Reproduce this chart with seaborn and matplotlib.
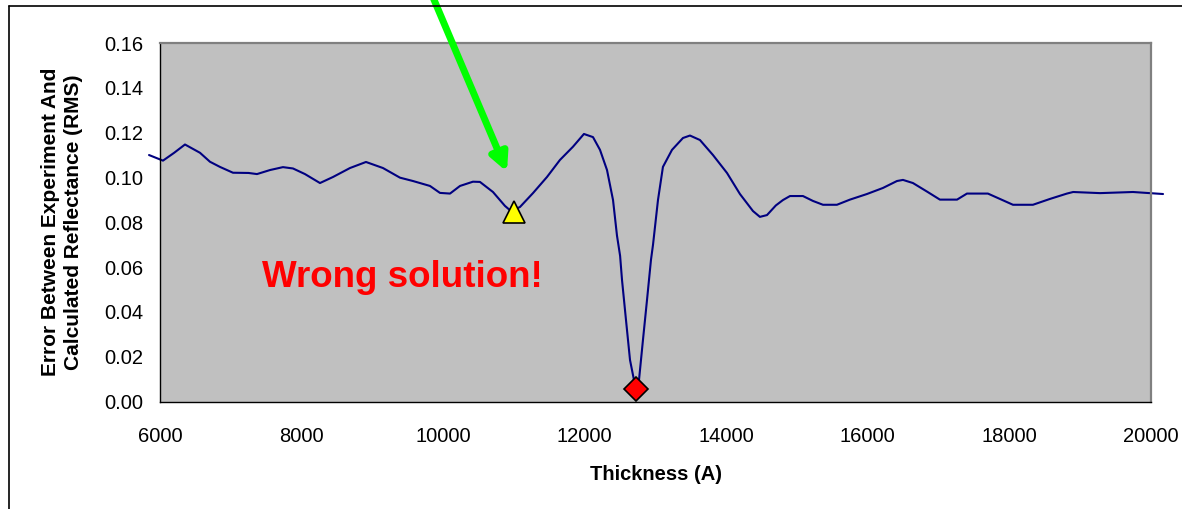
import matplotlib
matplotlib.use("Agg")
import matplotlib.pyplot as plt
from matplotlib.lines import Line2D
import pandas as pd
import seaborn as sns

# RMS error between measured and calculated reflectance vs. film thickness
thickness = [5845, 6042, 6200, 6353, 6565, 6706, 6847, 7031, 7250, 7370,
             7554, 7737, 7879, 8048, 8260, 8444, 8684, 8910, 9150, 9390,
             9574, 9814, 9955, 10097, 10238, 10421, 10520, 10704, 10873, 10958,
             11085, 11269, 11467, 11650, 11834, 11989, 12117, 12216, 12315, 12400,
             12456, 12500, 12527, 12583, 12640, 12696, 12724, 12767, 12823, 12880,
             12936, 12965, 13035, 13105, 13233, 13388, 13487, 13628, 13812, 14010,
             14193, 14377, 14475, 14575, 14700, 14800, 14900, 15083, 15225, 15366,
             15563, 15747, 15987, 16213, 16411, 16496, 16637, 16835, 17018, 17260,
             17400, 17696, 17866, 18050, 18332, 18572, 18812, 18900, 19280, 19745,
             20170]
rms_error = [0.1100, 0.1075, 0.1110, 0.1147, 0.1110, 0.1070, 0.1047, 0.1021, 0.1020, 0.1015,
             0.1033, 0.1046, 0.1040, 0.1015, 0.0975, 0.1002, 0.1042, 0.1069, 0.1042, 0.0999,
             0.0984, 0.0962, 0.0931, 0.0928, 0.0962, 0.0981, 0.0980, 0.0935, 0.0873, 0.0850,
             0.0868, 0.0930, 0.1002, 0.1078, 0.1137, 0.1194, 0.1180, 0.1123, 0.1033, 0.0899,
             0.0740, 0.0650, 0.0542, 0.0364, 0.0185, 0.0096, 0.0056, 0.0096, 0.0275, 0.0453,
             0.0632, 0.0700, 0.0899, 0.1047, 0.1123, 0.1176, 0.1187, 0.1167, 0.1100, 0.1020,
             0.0926, 0.0850, 0.0824, 0.0832, 0.0875, 0.0899, 0.0917, 0.0917, 0.0895, 0.0878,
             0.0878, 0.0901, 0.0926, 0.0953, 0.0984, 0.0989, 0.0975, 0.0937, 0.0901, 0.0901,
             0.0928, 0.0928, 0.0904, 0.0878, 0.0878, 0.0904, 0.0928, 0.0935, 0.0930, 0.0935,
             0.0926]

local_min = (11000, 0.0846)   # false minimum
global_min = (12724, 0.0056)  # true minimum

x_ticks = [6000, 8000, 10000, 12000, 14000, 16000, 18000, 20000]
y_ticks = [0.00, 0.02, 0.04, 0.06, 0.08, 0.10, 0.12, 0.14, 0.16]

df = pd.DataFrame({"Thickness": thickness, "RMS": rms_error})

sns.set_theme(style="white")
plt.rcParams["font.family"] = ["Liberation Sans", "DejaVu Sans"]

W, H = 1182, 509
fig = plt.figure(figsize=(W / 100, H / 100), dpi=100)
fig.patch.set_facecolor("white")
ax = fig.add_axes([160 / W, 1 - 401.5 / H, 991 / W, 358.5 / H])
ax.set_facecolor("#C0C0C0")

sns.lineplot(data=df, x="Thickness", y="RMS", ax=ax, color="#000080",
             linewidth=1.5, sort=False, estimator=None)
ax.lines[0].set_clip_on(False)

ax.plot(*local_min, marker="^", markersize=16, color="#FFFF00",
        markeredgecolor="black", markeredgewidth=1.2, clip_on=False, zorder=5)
ax.plot(*global_min, marker="D", markersize=12.5, color="#FF0000",
        markeredgecolor="black", markeredgewidth=1.2, clip_on=False, zorder=5)

ax.set_xlim(6000, 20000)
ax.set_ylim(0, 0.16)
ax.set_xticks(x_ticks)
ax.set_xticklabels([str(v) for v in x_ticks])
ax.set_yticks(y_ticks)
ax.set_yticklabels([f"{v:.2f}" for v in y_ticks])
ax.tick_params(axis="both", which="major", direction="out", length=6,
               width=1, color="black", labelsize=14.5, labelcolor="black")
ax.tick_params(axis="y", pad=6)
ax.tick_params(axis="x", pad=12)
ax.grid(False)

for side in ("left", "bottom"):
    ax.spines[side].set_color("black")
    ax.spines[side].set_linewidth(1.0)
for side in ("top", "right"):
    ax.spines[side].set_color("#808080")
    ax.spines[side].set_linewidth(1.6)

ax.set_xlabel("Thickness (A)", fontsize=14.5, fontweight="bold", color="black")
ax.xaxis.set_label_coords(0.5, -(465 - 401.5) / 358.5)
ax.set_ylabel("Error Between Experiment And\nCalculated Reflectance (RMS)",
              fontsize=15, fontweight="bold", color="black", linespacing=1.25)
ax.yaxis.set_label_coords(-(160 - 83) / 991, 0.5)

ax.text(7441, 0.0511, "Wrong solution!", color="#FF0000", fontsize=26.5,
        fontweight="bold", ha="left", va="baseline")

ax.annotate("", xy=(10902, 0.1025), xycoords="data",
            xytext=(432 / W, 1 + 5 / H), textcoords="figure fraction",
            annotation_clip=False,
            arrowprops=dict(arrowstyle="-|>", color="#00FF00", lw=5,
                            mutation_scale=26, shrinkA=0, shrinkB=0))

# chart frame (left and top edges)
fig.add_artist(Line2D([9 / W, 9 / W], [0, 1 - 6 / H], color="black", lw=1.2))
fig.add_artist(Line2D([9 / W, 1], [1 - 6 / H, 1 - 6 / H], color="black", lw=1.2))

fig.savefig("out.png", dpi=100, facecolor="white")
